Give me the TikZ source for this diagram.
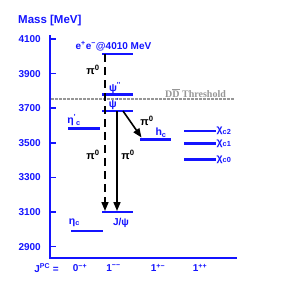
\documentclass[tikz,border=0pt]{standalone}
\usepackage{fontspec}
\setmainfont{Liberation Sans}
\newfontfamily\serifb{Liberation Serif}
\usetikzlibrary{arrows.meta}
\definecolor{lblue}{RGB}{20,20,255}
\definecolor{thgray}{RGB}{150,150,150}
\newcommand{\prm}{\textsuperscript{\textquotesingle}}
\newcommand{\pprm}{\textsuperscript{\textquotesingle\textquotesingle}}
\begin{document}
\begin{tikzpicture}[x=1pt,y=-1pt,
  level/.style={draw=lblue, line width=2.3pt},
  axis/.style={draw=lblue, line width=1.6pt},
  lab/.style={text=lblue, font=\bfseries\fontsize{10.5}{10.5}\selectfont, inner sep=0pt},
  biglab/.style={text=lblue, font=\bfseries\fontsize{10}{10}\selectfont, inner sep=0pt},
  pilab/.style={text=black, font=\bfseries\fontsize{11}{11}\selectfont, inner sep=0pt},
  trans/.style={draw=black, line width=1.6pt, -{Triangle[length=9pt,width=7pt]}},
  dtrans/.style={trans, dash pattern=on 8pt off 5pt},
  thr/.style={draw=thgray, line width=1.3pt, dash pattern=on 2.5pt off 1.5pt}]
\useasboundingbox (0,0) rectangle (284,284);
% axes
\coordinate (axtop) at (50,35);
\coordinate (axcorner) at (50,258);
\coordinate (axright) at (237,258);
\draw[axis] (axtop) -- (axcorner) -- (axright);
\node[biglab, font=\bfseries\fontsize{11.5}{11.5}\selectfont, anchor=west] (title) at (18,21) {Mass [MeV]};
\foreach \m/\y in {4100/39,3900/73.6,3700/108.2,3500/142.8,3300/177.4,3100/212,2900/246.6}{
  \coordinate (tk\m) at (50,\y);
  \coordinate (tke\m) at (56,\y);
  \draw[axis] (tk\m) -- (tke\m);
  \node[biglab, anchor=east] (tl\m) at (41,\y) {\m};
}
% JPC labels
\node[biglab] (jpc) at (46.5,268) {J\textsuperscript{PC} =};
\node[biglab] (c0mp) at (80,268) {0\textsuperscript{−+}};
\node[biglab] (c1mm) at (113.5,268) {1\textsuperscript{−−}};
\node[biglab] (c1pm) at (158,268) {1\textsuperscript{+−}};
\node[biglab] (c1pp) at (200,268) {1\textsuperscript{++}};
% threshold
\coordinate (thl) at (51,99);
\coordinate (thr) at (234,99);
\draw[thr] (thl) -- (thr);
\node[text=thgray, font=\serifb\bfseries\fontsize{10}{10}\selectfont, inner sep=0pt, anchor=west] (thlab) at (165,93) {D$\overline{\hbox{D}}$ Threshold};
% levels
\coordinate (eel) at (102,54);   \coordinate (eer) at (133,54);
\coordinate (ppl) at (102,94.5); \coordinate (ppr) at (133,94.5);
\coordinate (psl) at (102,111);  \coordinate (psr) at (133,111);
\coordinate (ecpl) at (68,128.5);\coordinate (ecpr) at (99.5,128.5);
\coordinate (hcl) at (140,139.5);\coordinate (hcr) at (171,139.5);
\coordinate (c2l) at (184,131);  \coordinate (c2r) at (216,131);
\coordinate (c1l) at (184,143.5);\coordinate (c1r) at (216,143.5);
\coordinate (c0l) at (184,159.5);\coordinate (c0r) at (216,159.5);
\coordinate (jpl) at (102,212);  \coordinate (jpr) at (133,212);
\coordinate (ecl) at (71,231);   \coordinate (ecr) at (103,231);
\foreach \a/\b in {eel/eer,ppl/ppr,psl/psr,ecpl/ecpr,hcl/hcr,c2l/c2r,c1l/c1r,c0l/c0r,jpl/jpr,ecl/ecr}
  \draw[level] (\a) -- (\b);
% level labels
\node[biglab] (eelab) at (113.5,46.5) {e\textsuperscript{+}e\textsuperscript{−}@4010 MeV};
\node[lab] (pplab) at (115,88) {ψ\pprm};
\node[lab] (pslab) at (114,104.5) {ψ\prm};
\node[lab] (ecplab) at (74,120.5) {η\prm\textsubscript{c}};
\node[lab] (hclab) at (161,132.5) {h\textsubscript{c}};
\node[lab, anchor=west] (c2lab) at (216.5,131) {χ\textsubscript{c2}};
\node[lab, anchor=west] (c1lab) at (216.5,143.5) {χ\textsubscript{c1}};
\node[lab, anchor=west] (c0lab) at (216.5,159.5) {χ\textsubscript{c0}};
\node[biglab] (jplab) at (121,222.5) {J/ψ};
\node[lab] (eclab) at (74.5,222.5) {η\textsubscript{c}};
% transitions
\coordinate (a1s) at (105,54);    \coordinate (a1e) at (105,211);
\coordinate (a2s) at (117,111);   \coordinate (a2e) at (117,211);
\coordinate (a3s) at (123,111);   \coordinate (a3e) at (141.5,137.5);
\draw[dtrans] (a1s) -- (a1e);
\draw[trans] (a2s) -- (a2e);
\draw[trans] (a3s) -- (a3e);
\node[pilab] (pi1) at (93,70) {π\textsuperscript{0}};
\node[pilab] (pi2) at (93,155) {π\textsuperscript{0}};
\node[pilab] (pi3) at (128,155) {π\textsuperscript{0}};
\node[pilab] (pi4) at (147,121) {π\textsuperscript{0}};
\end{tikzpicture}
\end{document}
